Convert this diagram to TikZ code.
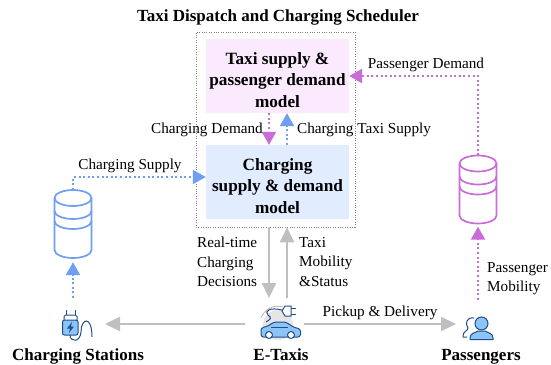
\documentclass[tikz,border=0pt]{standalone}
\usepackage{fontspec}
\setmainfont{Liberation Serif}
\usetikzlibrary{arrows.meta}
\definecolor{pinkline}{HTML}{C86DD7}
\definecolor{blueline}{HTML}{6F9EF2}
\definecolor{pinkfill}{HTML}{FBE9FD}
\definecolor{bluefill}{HTML}{E2ECFF}
\definecolor{grayline}{HTML}{BFBFBF}
\definecolor{icondark}{HTML}{1F4E8C}
\definecolor{iconfill}{HTML}{8CC4F5}
\newcommand{\firstline}{\rule{0pt}{20pt}}
\tikzset{
  modelbox/.style={minimum width=143pt,minimum height=74pt,inner sep=0pt,align=center,font=\fontsize{17.2}{21.5}\selectfont\bfseries},
  lbl/.style={inner sep=0pt,font=\fontsize{15.2}{19.5}\selectfont},
  lblbold/.style={inner sep=0pt,font=\fontsize{17}{20}\selectfont\bfseries},
  holder/.style={minimum width=#1,minimum height=#1,inner sep=0pt},
  dbnode/.style={minimum width=38pt,minimum height=69pt,inner sep=0pt},
  pinkflow/.style={draw=pinkline,line width=2.3pt,dash pattern=on 2pt off 2.6pt,-{Triangle[width=14pt,length=13pt,fill=pinkline]}},
  blueflow/.style={draw=blueline,line width=2.3pt,dash pattern=on 2pt off 2.6pt,-{Triangle[width=14pt,length=13pt,fill=blueline]}},
  grayflow/.style={draw=grayline,line width=2.2pt,-{Triangle[width=14pt,length=15pt,fill=grayline]}},
  pics/dbicon/.style={code={
    \draw[#1,line width=1.7pt] (-18.5,-26.5) arc[x radius=18.5,y radius=8,start angle=180,end angle=-180];
    \draw[#1,line width=1.7pt] (-18.5,-26.5) -- (-18.5,25.5) arc[x radius=18.5,y radius=8,start angle=180,end angle=0] -- (18.5,-26.5);
    \draw[#1,line width=1.7pt] (-18.5,-13.5) arc[x radius=18.5,y radius=8,start angle=180,end angle=0];
    \draw[#1,line width=1.7pt] (-18.5,-3.5) arc[x radius=18.5,y radius=8,start angle=180,end angle=0];
  }},
}
\begin{document}
\begin{tikzpicture}[x=1pt,y=-1pt]
  \useasboundingbox (0,0) rectangle (551,364);
  % scheduler
  \node[lblbold,anchor=base] (title) at (278,21) {Taxi Dispatch and Charging Scheduler};
  \node[draw=black!50,dash pattern=on 1pt off 1.4pt,line width=0.6pt,minimum width=159pt,minimum height=195pt,inner sep=0pt] (sched) at (275.5,129.5) {};
  \node[modelbox,fill=pinkfill] (pmodel) at (277.5,76) {\firstline Taxi supply \&\\passenger demand\\model};
  \node[modelbox,fill=bluefill] (cmodel) at (277.5,182) {\firstline Charging\\supply \& demand\\model};
  % data stores
  \node[dbnode] (cdb) at (73,224.5) {};
  \node[dbnode] (pdb) at (478,190) {};
  \pic at (cdb.center) {dbicon=blueline};
  \pic at (pdb.center) {dbicon=pinkline};
  % icons
  \node[holder=32pt] (station) at (76,324) {};
  \node[holder=40pt] (etaxi) at (280,324) {};
  \node[holder=32pt] (rider) at (478,324) {};
  % charging station icon
  \draw[icondark,line width=1pt] (66.5,315) -- (66.5,310) (75,315) -- (75,310);
  \draw[icondark,line width=1pt,rounded corners=1.5pt] (64,321) -- (64,315) -- (77,315) -- (77,321);
  \draw[icondark,line width=1pt,fill=iconfill,rounded corners=2pt] (62.5,320) rectangle (78,335);
  \fill[icondark] (72,322) -- (67,328.5) -- (70,328.5) -- (69,333) -- (74,326.5) -- (71,326.5) -- cycle;
  \draw[icondark,line width=1pt] (70,335) .. controls (70,342) and (80,343) .. (81,332) .. controls (81,318) and (92,315) .. (92,337);
  % taxi icon
  \fill[black!10] (278,325) circle (15);
  \draw[black!35,line width=0.6pt] (261,318) arc[radius=18,start angle=200,end angle=285];
  \draw[icondark,line width=1pt] (282,310) .. controls (270,307) and (264,311) .. (268,315) .. controls (272,318) and (271,319) .. (266,322);
  \draw[icondark,line width=1pt,fill=white] (285,306) -- (291,306) -- (291,316) -- (285,316) -- (282,311) -- cycle;
  \draw[icondark,line width=1pt] (291,308) -- (296,308) (291,314) -- (296,314);
  \draw[icondark,line width=1pt,fill=iconfill,rounded corners=2.5pt] (261,337) -- (261,328) -- (268,326) -- (274,322) -- (286,322) -- (293,327) -- (300.5,329) -- (300.5,337) -- cycle;
  \draw[icondark,line width=0.8pt] (271,327) -- (288,327);
  \draw[icondark,line width=1pt,fill=white] (269,335) circle (3.5) (291,335) circle (3.5);
  % passenger icon
  \draw[icondark,line width=1pt,fill=iconfill] (481.5,323.5) circle[radius=6.5];
  \draw[icondark,line width=1pt,fill=iconfill] (470,338) .. controls (470,333) and (475,333) .. (478,331) -- (485,331) .. controls (488,333) and (493,333) .. (493,338) -- (493,339.5) -- (470,339.5) -- cycle;
  \draw[icondark,line width=1pt] (474,318) .. controls (466,317) and (465,324) .. (468,328) .. controls (468,331) and (463,331) .. (463,336) -- (463,337) -- (467,337);
  % bottom names
  \node[lblbold,anchor=base] (stationlbl) at (78,360) {Charging Stations};
  \node[lblbold,anchor=base] (etaxilbl) at (281,360) {E-Taxis};
  \node[lblbold,anchor=base] (riderlbl) at (481,360) {Passengers};
  % grey flows
  \draw[grayflow] (sched.south -| 269,0) -- (269,298);
  \draw[grayflow] (287,298) -- (sched.south -| 287,0);
  \draw[grayflow] (245,324) -- (105,324);
  \draw[grayflow] (304,324) -- (456,324);
  % dotted flows
  \draw[pinkflow] (pmodel.south -| 269,0) -- (cmodel.north -| 269,0);
  \draw[blueflow] (cmodel.north -| 287,0) -- (pmodel.south -| 287,0);
  \draw[pinkflow] (pdb.north) -- (478,76) -- (pmodel.east);
  \draw[blueflow] (cdb.north) -- (73,177) -- (cmodel.west |- 0,177);
  \draw[blueflow,shorten >=3pt] (73,298) -- (cdb.south);
  \draw[pinkflow,shorten >=2pt] (478,300) -- (pdb.south);
  % labels
  \node[lbl,anchor=base] (demandlbl) at (426,68) {Passenger Demand};
  \node[lbl,anchor=base east] (chdemlbl) at (263,133) {Charging Demand};
  \node[lbl,anchor=base west] (chsuplbl) at (297,133) {Charging Taxi Supply};
  \node[lbl,anchor=base] (supplylbl) at (130,169) {Charging Supply};
  \node[lbl,anchor=north west,align=left] (declbl) at (197,237) {Real-time\\Charging\\Decisions};
  \node[lbl,anchor=north west,align=left] (moblbl) at (299,237) {Taxi\\Mobility\\\&Status};
  \node[lbl,anchor=base] (pickuplbl) at (380,316) {Pickup \& Delivery};
  \node[lbl,anchor=north west,align=left] (paxlbl) at (487,262) {Passenger\\Mobility};
\end{tikzpicture}
\end{document}
